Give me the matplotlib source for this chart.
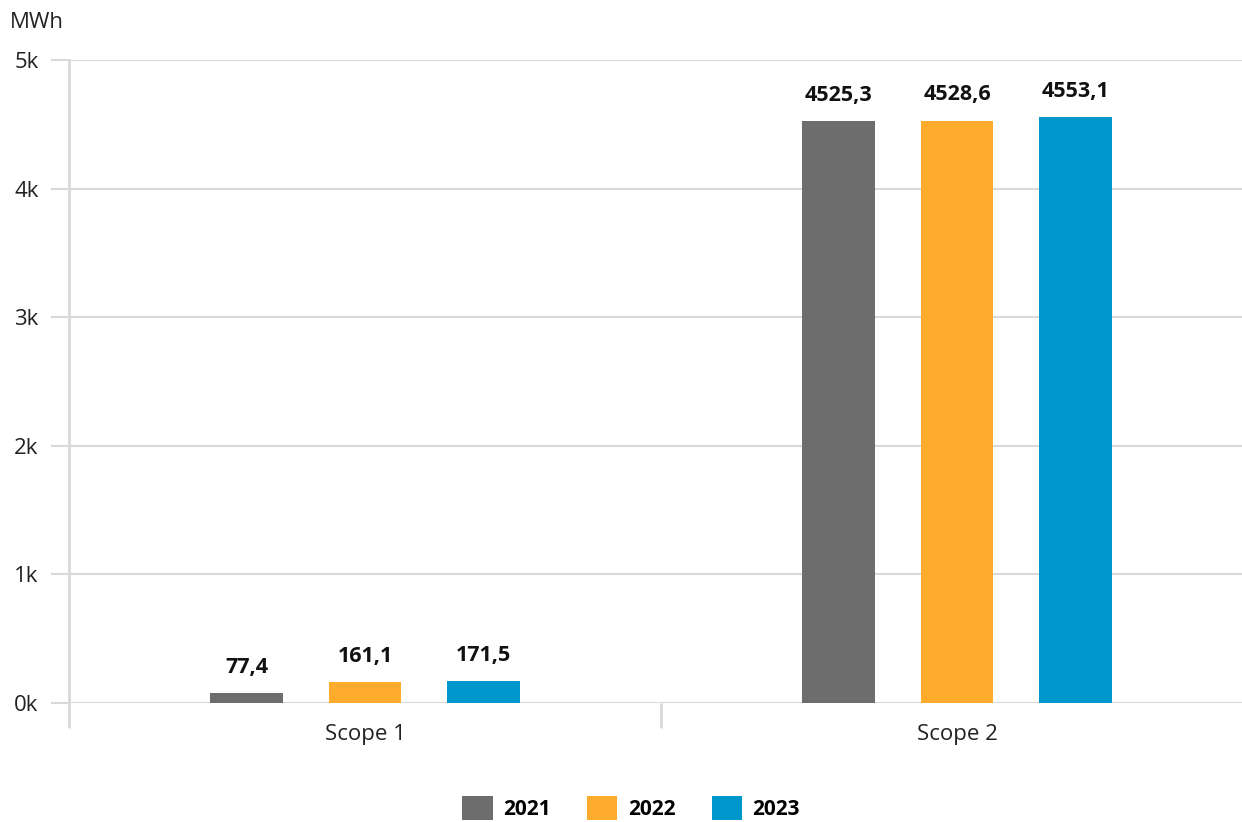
import matplotlib.pyplot as plt
import numpy as np

plt.rcParams['font.family'] = ['Open Sans', 'DejaVu Sans']

categories = ['Scope 1', 'Scope 2']
years = ['2021', '2022', '2023']
values = {
    '2021': [77.4, 4525.3],
    '2022': [161.1, 4528.6],
    '2023': [171.5, 4553.1],
}
colors = ['#6d6d6d', '#ffab2e', '#0098cc']
grid_col = '#d9d9d9'

W, H = 1242, 822
fig = plt.figure(figsize=(W / 100, H / 100), dpi=100)
ax = fig.add_axes([69 / W, (H - 703) / H, (W - 69) / W, 643 / H])

x = np.arange(len(categories))
width = 0.123
step = 0.2
for i, yr in enumerate(years):
    pos = x + (i - 1) * step
    bars = ax.bar(pos, values[yr], width, color=colors[i], label=yr, zorder=3)
    for b, v in zip(bars, values[yr]):
        ax.annotate(f'{v:.1f}'.replace('.', ','), (b.get_x() + b.get_width() / 2, v),
                    xytext=(0, 11), textcoords='offset points', ha='center', va='bottom',
                    fontsize=15.5, fontweight='bold', color='#111111')

ax.set_ylim(0, 5000)
ax.set_xlim(-0.5, -0.5 + (W - 69) / 592)
ax.set_yticks(np.arange(0, 5001, 1000))
ax.set_yticklabels([f'{int(t / 1000)}k' for t in np.arange(0, 5001, 1000)])
ax.yaxis.grid(True, color=grid_col, linewidth=1.5, zorder=0)
ax.tick_params(axis='y', length=13, width=1.5, color=grid_col, pad=9,
               labelsize=16, labelcolor='#222222')

ax.set_xticks(x)
ax.set_xticklabels(categories)
ax.tick_params(axis='x', which='major', length=0, pad=15, labelsize=16, labelcolor='#222222')
ax.set_xticks([-0.5, 0.5], minor=True)
ax.tick_params(axis='x', which='minor', length=18, width=2, color=grid_col)

for s in ['top', 'right', 'bottom']:
    ax.spines[s].set_visible(False)
ax.spines['left'].set_color(grid_col)
ax.spines['left'].set_linewidth(2)

fig.text(10 / W, 1 - 12 / H, 'MWh', fontsize=16, color='#222222', va='top', ha='left')

fig.legend(loc='center', bbox_to_anchor=(0.5 + 10 / W, 14 / H), ncol=3, frameon=False,
           prop={'weight': 'bold', 'size': 15}, handlelength=1.45, handleheight=1.45,
           handletextpad=0.5, columnspacing=1.75, borderpad=0)

fig.savefig('out.png', dpi=100)
